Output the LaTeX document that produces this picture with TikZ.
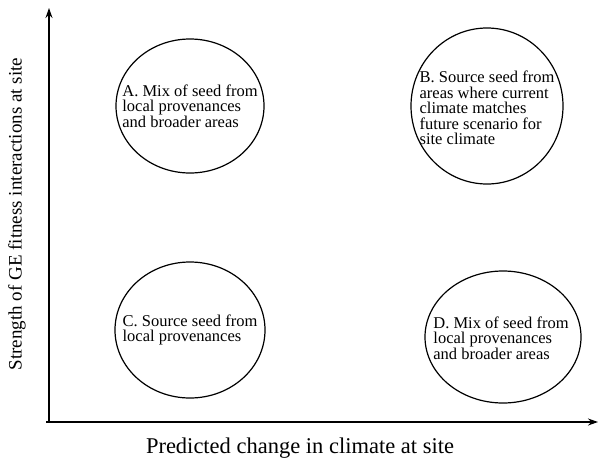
\documentclass[tikz,border=0pt]{standalone}
\usepackage{fontspec}
\setmainfont{Liberation Serif}
\usetikzlibrary{shapes.geometric,arrows.meta}
\begin{document}
\begin{tikzpicture}[x=1pt,y=-1pt,
  oval/.style={draw,line width=1.2pt,ellipse,inner sep=0pt},
  oval text/.style={align=left,inner sep=0pt,font=\fontsize{16.5}{15.6}\selectfont},
  axis/.style={line width=1.3pt,-{Stealth[length=10pt,width=7pt]}},
  axis label/.style={inner sep=0pt}]
\useasboundingbox[fill=white] (0,0) rectangle (601,461);
\coordinate (origin) at (49,422);
\coordinate (ytop) at (49,8);
\coordinate (xstart) at (46,422);
\coordinate (xend) at (598,422);
\draw[axis] (origin) -- (ytop);
\draw[axis] (xstart) -- (xend);
\node[axis label,font=\fontsize{22.5}{23}\selectfont] (xlab) at (300,448) {Predicted change in climate at site};
\node[axis label,rotate=90,font=\fontsize{19}{20}\selectfont] (ylab) at (17,214) {Strength of GE fitness interactions at site};
\node[oval,minimum width=148pt,minimum height=134pt] (A) at (190,106) {};
\node[oval,minimum width=152pt,minimum height=156pt] (B) at (487,106) {};
\node[oval,minimum width=150pt,minimum height=136pt] (C) at (190,330) {};
\node[oval,minimum width=156pt,minimum height=132pt] (D) at (503,337) {};
\node[oval text] (At) at (A.center) {A. Mix of seed from\\local provenances\\and broader areas};
\node[oval text] (Bt) at ([yshift=-2pt]B.center) {B. Source seed from\\areas where current\\climate matches\\future scenario for\\site climate};
\node[oval text] (Ct) at (C.center) {C. Source seed from\\local provenances};
\node[oval text] (Dt) at ([xshift=-2pt,yshift=-1pt]D.center) {D. Mix of seed from\\local provenances\\and broader areas};
\end{tikzpicture}
\end{document}
